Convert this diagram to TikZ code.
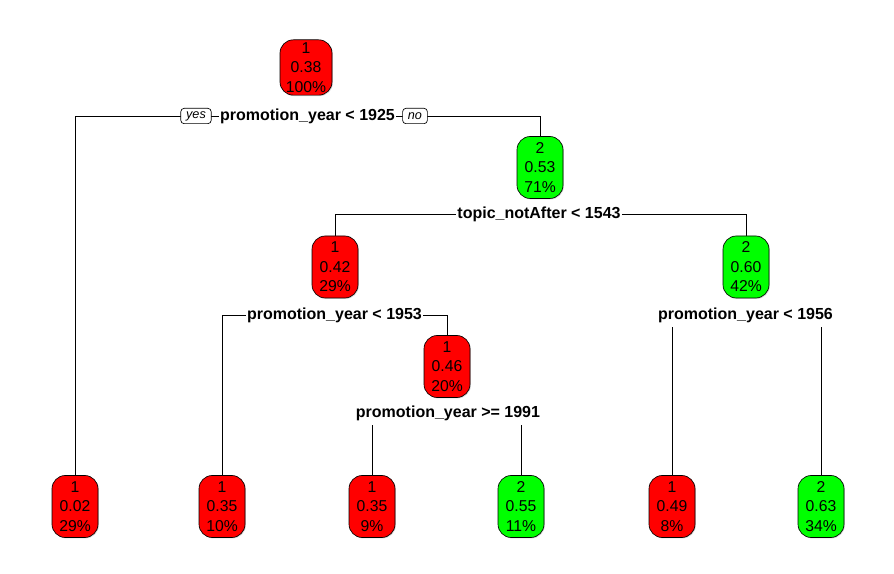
\documentclass[tikz,border=0pt]{standalone}
\usepackage{fontspec}
\setmainfont{Liberation Sans}
\usetikzlibrary{backgrounds,shadows}
\begin{document}
\begin{tikzpicture}[x=0.75pt,y=-0.75pt,
 tnode/.style={draw=black, line width=0.5pt, rounded corners=10pt, align=center,
   font=\fontsize{11.8}{14.6}\selectfont, minimum width=34.5pt, minimum height=46.5pt,
   inner sep=0pt, drop shadow={shadow xshift=0.7pt, shadow yshift=-0.7pt, opacity=0.3}},
 redn/.style={tnode, fill=red},
 grnn/.style={tnode, fill=green},
 splitlab/.style={fill=white, font=\fontsize{12}{14}\selectfont\bfseries, inner xsep=1pt, inner ysep=3.5pt},
 yn/.style={draw, rounded corners=2.5pt, fill=white, font=\fontsize{9.5}{10}\selectfont\itshape,
   inner xsep=4pt, inner ysep=0pt, minimum height=11.5pt, line width=0.5pt},
 edge/.style={line width=0.6pt}]
\useasboundingbox (0,0) rectangle (894,574);
% inner nodes
\node[redn, minimum width=39pt, minimum height=41.5pt] (n1) at (306,67.5) {1\\0.38\\100\%};
\node[grnn] (n3) at (540,167.5) {2\\0.53\\71\%};
\node[redn] (n6) at (335,267) {1\\0.42\\29\%};
\node[grnn] (n7) at (746,267) {2\\0.60\\42\%};
\node[redn] (n13) at (447,366.5) {1\\0.46\\20\%};
% leaves
\node[redn] (n2) at (75,506.5) {1\\0.02\\29\%};
\node[redn] (n12) at (222,506.5) {1\\0.35\\10\%};
\node[redn] (n26) at (372,506.5) {1\\0.35\\9\%};
\node[grnn] (n27) at (521,506.5) {2\\0.55\\11\%};
\node[redn] (n14) at (672,506.5) {1\\0.49\\8\%};
\node[grnn] (n15) at (821,506.5) {2\\0.63\\34\%};
% split labels
\node[splitlab] (s1) at (307.5,116) {promotion\_year < 1925};
\node[yn] (yes) at (196,116) {yes};
\node[yn] (no) at (415,116) {no};
\node[splitlab] (s3) at (539,214) {topic\_notAfter < 1543};
\node[splitlab] (s6) at (334.5,315.5) {promotion\_year < 1953};
\node[splitlab] (s13) at (448,413) {promotion\_year >= 1991};
\node[splitlab] (s7) at (745.5,315) {promotion\_year < 1956};
\begin{scope}[on background layer]
\fill[white] (0,0) rectangle (894,574);
\draw[edge] (s1.center) -| (n2.north);
\draw[edge] (s1.center) -| (n3.north);
\draw[edge] (s3.center) -| (n6.north);
\draw[edge] (s3.center) -| (n7.north);
\draw[edge] (s6.center) -| (n12.north);
\draw[edge] (s6.center) -| (n13.north);
\draw[edge] (n26.north |- s13.south) -- (n26.north);
\draw[edge] (n27.north |- s13.south) -- (n27.north);
\draw[edge] (n14.north |- s7.south) -- (n14.north);
\draw[edge] (n15.north |- s7.south) -- (n15.north);
\end{scope}
\end{tikzpicture}
\end{document}
